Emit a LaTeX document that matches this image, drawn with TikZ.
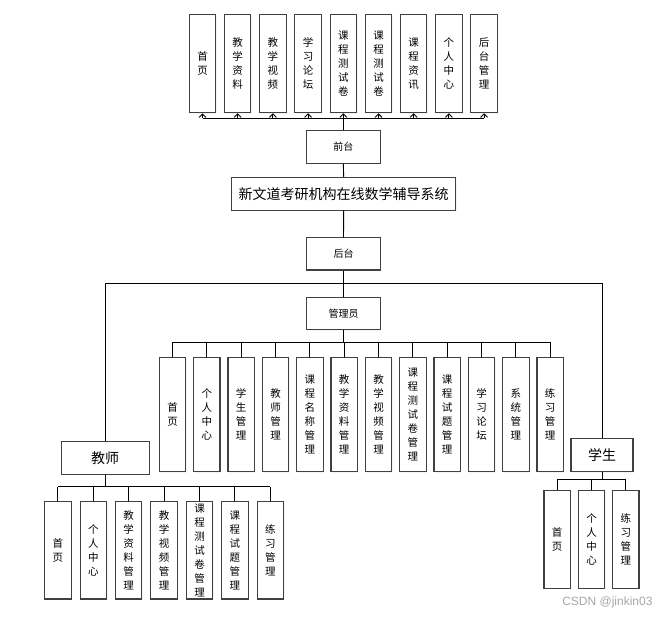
\documentclass[tikz,border=0pt]{standalone}
\usepackage{fontspec}
\newfontfamily\cjk{Noto Sans CJK SC}
\newfontfamily\wmfont{Liberation Sans}
\usetikzlibrary{arrows.meta,shadows}
\tikzset{
  box/.style={draw=black!75, line width=1.1pt, fill=white, inner sep=0pt,
    drop shadow={shadow xshift=1pt, shadow yshift=-1pt, fill=black!8, opacity=0.5}},
  vbox/.style={box, minimum width=26.4pt, align=center, font=\cjk\fontsize{10.5}{14}\selectfont},
  hbox/.style={box, font=\cjk\fontsize{10}{12}\selectfont},
  bigbox/.style={box, font=\cjk\fontsize{14}{16}\selectfont},
  conn/.style={line width=0.9pt, black},
  arr/.style={conn, -{Straight Barb[length=3.5pt,width=7pt]}}
}
\begin{document}
\begin{tikzpicture}[x=1pt,y=-1pt]
\useasboundingbox (0,0) rectangle (669,619);
% top row
\foreach \t [count=\i from 0] in {首\\页,教\\学\\资\\料,教\\学\\视\\频,学\\习\\论\\坛,课\\程\\测\\试\\卷,课\\程\\测\\试\\卷,课\\程\\资\\讯,个\\人\\中\\心,后\\台\\管\\理}{
  \node[vbox, minimum height=98.4pt] (f\i) at ({202.5+35.2*\i},63.5) {\t};
}
\node[hbox, minimum width=74pt, minimum height=32.6pt] (front) at (343.3,147) {前台};
\node[bigbox, minimum width=224pt, minimum height=32.7pt] (sys) at (343.7,193.7) {新文道考研机构在线数学辅导系统};
\node[hbox, minimum width=73.6pt, minimum height=32.3pt] (back) at (343.5,253.8) {后台};
\node[hbox, minimum width=73.6pt, minimum height=32pt] (mgr) at (343.5,313.5) {管理员};
% admin children
\foreach \t [count=\i from 0] in {首\\页,个\\人\\中\\心,学\\生\\管\\理,教\\师\\管\\理,课\\程\\名\\称\\管\\理,教\\学\\资\\料\\管\\理,教\\学\\视\\频\\管\\理,课\\程\\测\\试\\卷\\管\\理,课\\程\\试\\题\\管\\理,学\\习\\论\\坛,系\\统\\管\\理,练\\习\\管\\理}{
  \node[vbox, minimum height=114.4pt] (a\i) at ({172.5+34.34*\i},414.5) {\t};
}
\node[bigbox, minimum width=88.3pt, minimum height=32.6pt] (tea) at (105.2,458) {教师};
\foreach \t [count=\i from 0] in {首\\页,个\\人\\中\\心,教\\学\\资\\料\\管\\理,教\\学\\视\\频\\管\\理,课\\程\\测\\试\\卷\\管\\理,课\\程\\试\\题\\管\\理,练\\习\\管\\理}{
  \node[vbox, minimum height=97.3pt] (t\i) at ({57.9+35.4*\i},550.3) {\t};
}
\node[bigbox, minimum width=62pt, minimum height=33.3pt] (stu) at (602,455) {学生};
\foreach \t [count=\i from 0] in {首\\页,个\\人\\中\\心,练\\习\\管\\理}{
  \node[vbox, minimum height=98pt] (s\i) at ({557.2+34.3*\i},539.3) {\t};
}
% connectors: front
\coordinate (fbus) at (343.3,118.3);
\draw[conn] (front.north) -- (fbus);
\draw[conn] (f0.south |- fbus) -- (f8.south |- fbus);
\foreach \i in {0,...,8} { \draw[arr] (f\i.south |- fbus) -- (f\i.south); }
\draw[conn] (front.south) -- (sys.north);
\draw[conn] (sys.south) -- (back.north);
% back bus
\coordinate (bbus) at (343.5,283);
\draw[conn] (back.south) -- (mgr.north);
\draw[conn] (tea.north |- bbus) -- (stu.north |- bbus);
\draw[conn] (tea.north |- bbus) -- (tea.north);
\draw[conn] (stu.north |- bbus) -- (stu.north);
% admin bus
\coordinate (abus) at (343.5,342.3);
\draw[conn] (mgr.south) -- (abus);
\draw[conn] (a0.north |- abus) -- (a11.north |- abus);
\foreach \i in {0,...,11} { \draw[conn] (a\i.north |- abus) -- (a\i.north); }
% teacher bus
\coordinate (tbus) at (105.2,486.7);
\draw[conn] (tea.south) -- (tbus);
\draw[conn] (t0.north |- tbus) -- (t6.north |- tbus);
\foreach \i in {0,...,6} { \draw[conn] (t\i.north |- tbus) -- (t\i.north); }
% student bus
\coordinate (sbus) at (602,479.3);
\draw[conn] (stu.south) -- (sbus);
\draw[conn] (s0.north |- sbus) -- (s2.north |- sbus);
\foreach \i in {0,...,2} { \draw[conn] (s\i.north |- sbus) -- (s\i.north); }
% watermark
\node[text=black!35, font=\wmfont\fontsize{12}{14}\selectfont, anchor=east] (wm) at (656,602) {CSDN @jinkin03};
\end{tikzpicture}
\end{document}
